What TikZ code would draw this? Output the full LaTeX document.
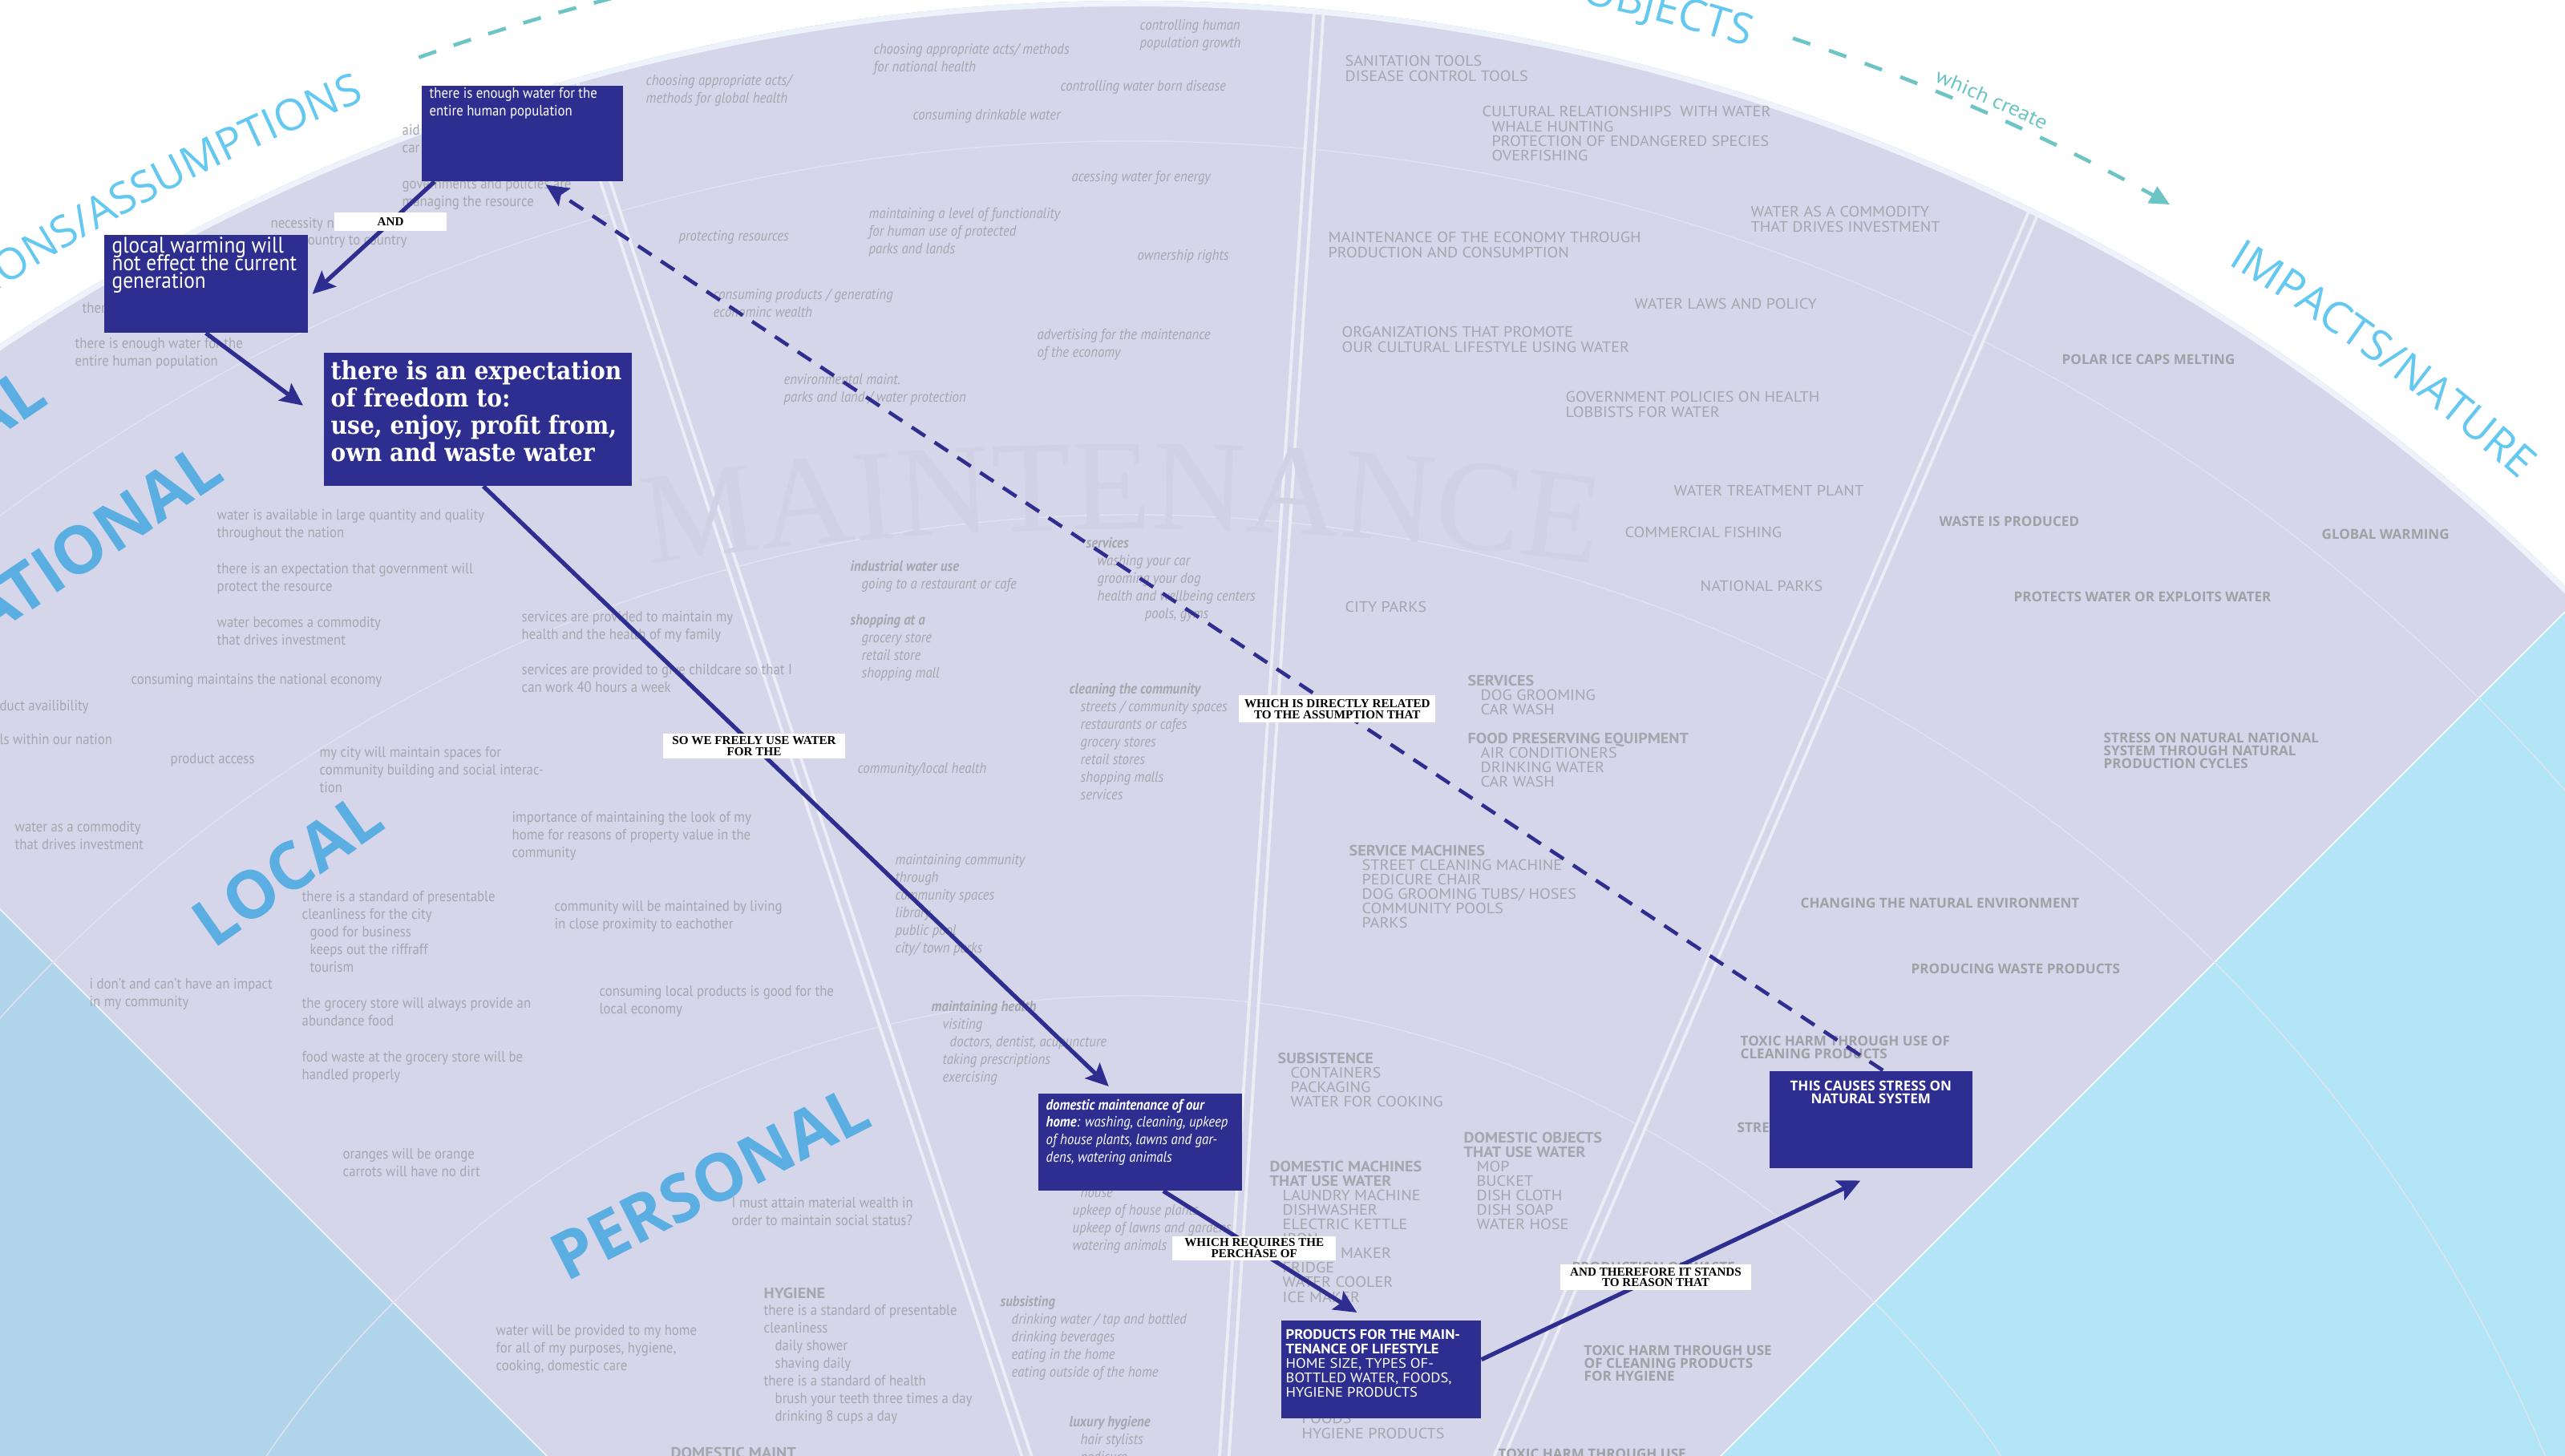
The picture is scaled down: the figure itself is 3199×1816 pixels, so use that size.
\documentclass[tikz,border=0pt]{standalone}
\usepackage{fontspec}
\usetikzlibrary{arrows.meta,calc,decorations.text}

\newfontfamily\condsans[FakeStretch=0.9]{PT Sans}
\newfontfamily\capsans[FakeStretch=1.08]{PT Sans}
\newfontfamily\labelsans{Open Sans}
\newfontfamily\boxserif[FakeStretch=0.9]{DejaVu Serif}
\newfontfamily\linkserif{Liberation Serif}

\definecolor{lav}{HTML}{D5D6E9}
\definecolor{seacyan}{HTML}{B2E6F7}
\definecolor{paleblue}{HTML}{B0D4E9}
\definecolor{rimwhite}{HTML}{EEF2FA}
\definecolor{boxblue}{HTML}{2E2E91}
\definecolor{greytxt}{HTML}{A6A6AE}
\definecolor{impgrey}{HTML}{A0A0A6}
\definecolor{bandblue}{HTML}{5AAEE1}
\definecolor{arcblue}{HTML}{64C8F0}
\definecolor{tealdash}{HTML}{6CC4C4}
\definecolor{ghost}{HTML}{D2D0E4}

\newcommand\asmfont{\condsans\fontsize{5.3}{6.25}\selectfont\lineskiplimit=-5pt\relax}
\newcommand\capfont{\capsans\fontsize{5.3}{5.15}\selectfont\lineskiplimit=-5pt\relax}
\newcommand\impfont{\labelsans\bfseries\fontsize{4.85}{4.55}\selectfont\lineskiplimit=-5pt\relax}
\newcommand\linkfont{\linkserif\bfseries\fontsize{4.3}{3.95}\selectfont\lineskiplimit=-5pt\relax}
\newcommand\listin{\hspace*{1.4mm}}
\newcommand\objin{\hspace*{1.6mm}}

\tikzset{
  asm/.style={anchor=north west, inner sep=0pt, align=left, text=greytxt, font=\asmfont},
  mnt/.style={asm, font=\asmfont\itshape},
  obj/.style={asm, font=\capfont},
  imp/.style={asm, text=impgrey, font=\impfont},
  keybox/.style={anchor=north west, fill=boxblue, text=white, inner xsep=1mm, inner ysep=.3mm},
  linkbox/.style={fill=white, text=black, inner sep=0pt, align=center, font=\linkfont},
  conn/.style={draw=boxblue, line width=1.5pt, -{Stealth[length=8pt,width=7.5pt,inset=1.5pt]}},
  dconn/.style={conn, line width=1.3pt, dash pattern=on 5.7pt off 4pt},
  band/.style={anchor=base east, inner sep=0pt, text=bandblue, font=\labelsans\bfseries\fontsize{23.3}{24}\selectfont},
  column/.style={draw=white!55!lav, line width=1.1pt, double=lav, double distance=2.2pt},
  ring/.style={draw=white!30!lav, line width=.4pt},
}

\begin{document}
\begin{tikzpicture}[x=0.01cm, y=-0.01cm]
\useasboundingbox (0,0) rectangle (3199,1816);
\clip (0,0) rectangle (3199,1816);
\fill[white] (0,0) rectangle (3199,1816);

% the fan
\begin{scope}
  \clip (1414,2548) circle[radius=2547];
  \fill[seacyan] (-100,-100) rectangle (3300,1900);
  \fill[paleblue] (1414,2548) -- (-1586,-452) -- (-1586,3000) -- cycle;
  \fill[lav] (1414,2548) -- (-1586,-452) -- (4414,-452) -- cycle;
  \draw[white, line width=.4pt] (-1586,-452) -- (1414,2548) -- (4414,-452);
  \foreach \rad in {2372,1906,1306}
    \draw[ring] (1414,2548) circle[radius=\rad];
  \draw[column] (700,60) -- (1295,1860);
  \draw[column] (1647,-20) -- (1524,1860);
  \draw[column] (2564,200) -- (1851,1860);
  \draw[rimwhite, line width=2.2pt] (1414,2548) circle[radius=2544];
\end{scope}

\path[decorate, decoration={text along path, text align=center, text color=ghost,
    text={|\linkserif\fontsize{46}{46}\selectfont|MAINTENANCE}}]
  plot[domain=-100:-80, samples=60] ({1400+4000*cos(\x)}, {4660+4000*sin(\x)});

% ring titles
\path[decorate, decoration={text along path, text align=right, text color=arcblue,
    text={|\labelsans\fontsize{15.4}{16}\selectfont|IONS/ASSUMPTIONS}}]
  plot[domain=-150:-111.6, samples=90] ({1414+2605*cos(\x)}, {2548+2605*sin(\x)});
\path[decorate, decoration={text along path, text align=right, text color=arcblue,
    text={|\labelsans\fontsize{15.4}{16}\selectfont|OBJECTS}}]
  plot[domain=-95:-72.9, samples=60] ({1414+2605*cos(\x)}, {2548+2605*sin(\x)});
\path[decorate, decoration={text along path, text color=arcblue,
    text={|\labelsans\fontsize{15.4}{16}\selectfont|IMPACTS/NATURE}}]
  plot[domain=-58.4:-25, samples=90] ({1414+2605*cos(\x)}, {2548+2605*sin(\x)});
\draw[tealdash, line width=1.3pt, dash pattern=on 6.5pt off 6.5pt]
  plot[domain=-109.8:-98, samples=40] ({1414+2632*cos(\x)}, {2548+2632*sin(\x)});
\draw[tealdash, line width=1.3pt, dash pattern=on 6.5pt off 7pt, -{Triangle[length=7pt,width=6.5pt]}]
  plot[domain=-71.8:-60.6, samples=40] ({1414+2632*cos(\x)}, {2548+2632*sin(\x)});
\path[decorate, decoration={text along path, text color=tealdash,
    text={|\capsans\fontsize{7.2}{7.2}\selectfont|which create}}]
  plot[domain=-67.8:-55, samples=40] ({1414+2642*cos(\x)}, {2548+2642*sin(\x)});

% scale bands
\node[band, rotate=34] (globalLbl) at (63,502) {GLOBAL};
\node[band, rotate=34] (nationalLbl) at (283,597) {NATIONAL};
\node[band, rotate=35] (localLbl) at (484,1032) {LOCAL};
\node[band, rotate=27] (personalLbl) at (1091,1403) {PERSONAL};

% assumptions
\node[asm] (a1) at (501,155) {aid\\car};
\node[asm] (a2) at (501,222) {governments and policies are\\managing the resource};
\node[asm] (a3) at (337,271) {necessity n};
\node[asm] (a4) at (376,293) {country to country};
\node[asm] (a5) at (102,377) {there};
\node[asm] (a6) at (93,421) {there is enough water for the\\entire human population};
\node[asm] (a7) at (270,635) {water is available in large quantity and quality\\throughout the nation};
\node[asm] (a8) at (270,702) {there is an expectation that government will\\protect the resource};
\node[asm] (a9) at (270,769) {water becomes a commodity\\that drives investment};
\node[asm] (a10) at (163,840) {consuming maintains the national economy};
\node[asm] (a11) at (-1,873) {duct availibility};
\node[asm] (a12) at (-1,915) {ls within our nation};
\node[asm] (a13) at (212,939) {product access};
\node[asm] (a14) at (398,931) {my city will maintain spaces for\\community building and social interac-\\tion};
\node[asm] (a15) at (18,1024) {water as a commodity\\that drives investment};
\node[asm] (a16) at (650,762) {services are provided to maintain my\\health and the health of my family};
\node[asm] (a17) at (650,828) {services are provided to give childcare so that I\\can work 40 hours a week};
\node[asm] (a18) at (638,1012) {importance of maintaining the look of my\\home for reasons of property value in the\\community};
\node[asm] (a19) at (376,1111) {there is a standard of presentable\\cleanliness for the city\\\hspace*{1mm}good for business\\\hspace*{1mm}keeps out the riffraff\\\hspace*{1mm}tourism};
\node[asm] (a20) at (691,1123) {community will be maintained by living\\in close proximity to eachother};
\node[asm] (a21) at (111,1220) {i don’t and can’t have an impact\\in my community};
\node[asm] (a22) at (376,1244) {the grocery store will always provide an\\abundance food};
\node[asm] (a23) at (747,1229) {consuming local products is good for the\\local economy};
\node[asm] (a24) at (376,1311) {food waste at the grocery store will be\\handled properly};
\node[asm] (a25) at (427,1432) {oranges will be orange\\carrots will have no dirt};
\node[asm] (a26) at (912,1493) {I must attain material wealth in\\order to maintain social status?};
\node[asm] (a27) at (618,1652) {water will be provided to my home\\for all of my purposes, hygiene,\\cooking, domestic care};
\node[asm] (a28) at (952,1605) {{\capsans\bfseries HYGIENE}\\there is a standard of presentable\\cleanliness\\\listin daily shower\\\listin shaving daily\\there is a standard of health\\\listin brush your teeth three times a day\\\listin drinking 8 cups a day};

% maintenance
\node[mnt] (m1) at (805,93) {choosing appropriate acts/\\methods for global health};
\node[mnt] (m2) at (1089,54) {choosing appropriate acts/ methods\\for national health};
\node[mnt] (m3) at (1421,24) {controlling human\\population growth};
\node[mnt] (m4) at (1322,100) {controlling water born disease};
\node[mnt] (m5) at (1138,136) {consuming drinkable water};
\node[mnt] (m6) at (1336,213) {acessing water for energy};
\node[mnt] (m7) at (1083,259) {maintaining a level of functionality\\for human use of protected\\parks and lands};
\node[mnt] (m8) at (846,287) {protecting resources};
\node[mnt] (m9) at (1418,311) {ownership rights};
\node[mnt] (m10) at (889,360) {consuming products / generating\\econominc wealth};
\node[mnt] (m11) at (1293,410) {advertising for the maintenance\\of the economy};
\node[mnt] (m12) at (977,466) {environmental maint.\\parks and land / water protection};
\node[mnt] (m13) at (1060,699) {\textbf{industrial water use}\\\listin going to a restaurant or cafe};
\node[mnt] (m14) at (1060,766) {\textbf{shopping at a}\\\listin grocery store\\\listin retail store\\\listin shopping mall};
\node[mnt] (m15) at (1069,951) {community/local health};
\node[mnt] (m16) at (1116,1065) {maintaining community\\through\\community spaces\\library\\public pool\\city/ town parks};
\node[mnt] (m17) at (1354,670) {\textbf{services}\\\listin washing your car\\\listin grooming your dog\\\listin health and wellbeing centers\\\hspace*{7.3mm}pools, gyms};
\node[mnt] (m18) at (1333,852) {\textbf{cleaning the community}\\\listin streets / community spaces\\\listin restaurants or cafes\\\listin grocery stores\\\listin retail stores\\\listin shopping malls\\\listin services};
\node[mnt] (m19) at (1161,1248) {\textbf{maintaining health}\\\listin visiting\\\hspace*{2.3mm}doctors, dentist, acupuncture\\\listin taking prescriptions\\\listin exercising};
\node[mnt] (m20) at (1337,1480) {\hspace*{1mm}house\\upkeep of house plants\\upkeep of lawns and gardens\\watering animals};
\node[mnt] (m21) at (1247,1616) {\textbf{subsisting}\\\listin drinking water / tap and bottled\\\listin drinking beverages\\\listin eating in the home\\\listin eating outside of the home};
\node[mnt] (m22) at (1333,1766) {\textbf{luxury hygiene}\\\listin hair stylists\\\listin pedicure};

% objects
\node[obj] (o1) at (1677,69) {SANITATION TOOLS\\DISEASE CONTROL TOOLS};
\node[obj] (o2) at (1848,132) {CULTURAL RELATIONSHIPS\ \ WITH WATER\\\hspace*{1.2mm}WHALE HUNTING\\\hspace*{1.2mm}PROTECTION OF ENDANGERED SPECIES\\\hspace*{1.2mm}OVERFISHING};
\node[obj] (o3) at (2183,257) {WATER AS A COMMODITY\\THAT DRIVES INVESTMENT};
\node[obj] (o4) at (1656,289) {MAINTENANCE OF THE ECONOMY THROUGH\\PRODUCTION AND CONSUMPTION};
\node[obj] (o5) at (2038,372) {WATER LAWS AND POLICY};
\node[obj] (o6) at (1673,407) {ORGANIZATIONS THAT PROMOTE\\OUR CULTURAL LIFESTYLE USING WATER};
\node[obj] (o7) at (1952,488) {GOVERNMENT POLICIES ON HEALTH\\LOBBISTS FOR WATER};
\node[obj] (o8) at (2087,605) {WATER TREATMENT PLANT};
\node[obj] (o9) at (2026,657) {COMMERCIAL FISHING};
\node[obj] (o10) at (2120,724) {NATIONAL PARKS};
\node[obj] (o11) at (1677,750) {CITY PARKS};
\node[obj] (o12) at (1830,841) {\textbf{SERVICES}\\\objin DOG GROOMING\\\objin CAR WASH};
\node[obj] (o13) at (1830,913) {\textbf{FOOD PRESERVING EQUIPMENT}\\\objin AIR CONDITIONERS\\\objin DRINKING WATER\\\objin CAR WASH};
\node[obj] (o14) at (1682,1053) {\textbf{SERVICE MACHINES}\\\objin STREET CLEANING MACHINE\\\objin PEDICURE CHAIR\\\objin DOG GROOMING TUBS/ HOSES\\\objin COMMUNITY POOLS\\\objin PARKS};
\node[obj] (o15) at (1593,1312) {\textbf{SUBSISTENCE}\\\objin CONTAINERS\\\objin PACKAGING\\\objin WATER FOR COOKING};
\node[obj] (o16) at (1825,1411) {\textbf{DOMESTIC OBJECTS}\\\textbf{THAT USE WATER}\\\objin MOP\\\objin BUCKET\\\objin DISH CLOTH\\\objin DISH SOAP\\\objin WATER HOSE};
\node[obj] (o17) at (1583,1447) {\textbf{DOMESTIC MACHINES}\\\textbf{THAT USE WATER}\\\objin LAUNDRY MACHINE\\\objin DISHWASHER\\\objin ELECTRIC KETTLE\\\objin IRON\\\objin COFFEE MAKER\\\objin FRIDGE\\\objin WATER COOLER\\\objin ICE MAKER};
\node[obj] (o18) at (1623,1762) {FOODS\\HYGIENE PRODUCTS};
\node[obj] (o19) at (836,1804) {\textbf{DOMESTIC MAINT}};

% impacts
\node[imp] (i1) at (2571,441) {POLAR ICE CAPS MELTING};
\node[imp] (i2) at (2418,643) {WASTE IS PRODUCED};
\node[imp] (i3) at (2895,659) {GLOBAL WARMING};
\node[imp] (i4) at (2511,737) {PROTECTS WATER OR EXPLOITS WATER};
\node[imp] (i5) at (2623,913) {STRESS ON NATURAL NATIONAL\\SYSTEM THROUGH NATURAL\\PRODUCTION CYCLES};
\node[imp] (i6) at (2245,1119) {CHANGING THE NATURAL ENVIRONMENT};
\node[imp] (i7) at (2383,1201) {PRODUCING WASTE PRODUCTS};
\node[imp] (i8) at (2170,1291) {TOXIC HARM THROUGH USE OF\\CLEANING PRODUCTS};
\node[imp] (i9) at (2166,1399) {STRESS ON NATURAL SYSTEM};
\node[imp] (i10) at (1975,1677) {TOXIC HARM THROUGH USE\\OF CLEANING PRODUCTS\\FOR HYGIENE};
\node[imp] (i11) at (1868,1806) {TOXIC HARM THROUGH USE};
\node[imp] (i12) at (1960,1573) {PRODUCTION OF WASTE};

% key statements
\node[keybox] (box1) at (525,106) {\parbox[t][11.3mm][t]{23.1mm}{\asmfont\raggedright there is enough water for the\\entire human population}};
\node[keybox] (box2) at (129,292) {\parbox[t][11.6mm][t]{23.4mm}{\condsans\fontsize{8}{6.3}\selectfont\lineskiplimit=-5pt\raggedright glocal warming will\\not effect the current\\generation}};
\node[keybox, inner xsep=.9mm, inner ysep=1mm] (box3) at (403,439) {\parbox[t][14.6mm][t]{36.6mm}{\boxserif\bfseries\fontsize{8.9}{9.7}\selectfont\raggedright there is an expectation\\of freedom to:\\use, enjoy, profit from,\\own and waste water}};
\node[keybox, inner ysep=.7mm] (dom) at (1294,1363) {\parbox[t][10.7mm][t]{23.4mm}{\asmfont\itshape\raggedright\textbf{domestic maintenance of our}\\\textbf{home}: washing, cleaning, upkeep\\of house plants, lawns and gar-\\dens, watering animals}};
\node[keybox, inner xsep=.6mm, inner ysep=1.1mm] (prod) at (1597,1646) {\parbox[t][10mm][t]{23.7mm}{\capsans\fontsize{4.9}{5.15}\selectfont\raggedright\textbf{PRODUCTS FOR THE MAIN-}\\\textbf{TENANCE OF LIFESTYLE}\\HOME SIZE, TYPES OF-\\BOTTLED WATER, FOODS,\\HYGIENE PRODUCTS}};
\node[keybox, inner ysep=1.2mm] (stress) at (2206,1335) {\parbox[t][9.7mm][t]{23.3mm}{\impfont\centering THIS CAUSES STRESS ON\\NATURAL SYSTEM}};

% links
\draw[conn] ($(box1.south west)+(17,0)$) -- node[linkbox, pos=.36, minimum width=14mm, minimum height=2.3mm] (andLbl) {AND} ($(box2.east)+(5,13)$);
\draw[conn] (box2.south) -- ($(box3.west)+(-25,-17)$);
\draw[conn] ($(box3.south)+(7,0)$) -- node[linkbox, pos=.433, minimum width=22.6mm, minimum height=3.1mm] (freeLbl) {SO WE FREELY USE WATER\\FOR THE} ($(dom.north)+(-39,-8)$);
\draw[conn] ($(dom.south)+(29,0)$) -- node[linkbox, pos=.47, minimum width=20.4mm, minimum height=3mm] (buyLbl) {WHICH REQUIRES THE\\PERCHASE OF} ($(prod.north)+(-30,-9)$);
\draw[conn] ($(prod.east)+(0,-12)$) -- node[linkbox, pos=.46, minimum width=23.7mm, minimum height=3.2mm] (reasonLbl) {AND THEREFORE IT STANDS\\TO REASON THAT} ($(stress.south)+(-13,15)$);
\draw[dconn] ($(stress.north)+(15,0)$) -- node[linkbox, pos=.408, minimum width=24.5mm, minimum height=3.4mm] (relLbl) {WHICH IS DIRECTLY RELATED\\TO THE ASSUMPTION THAT} ($(box1.south east)+(-97,4)$);
\end{tikzpicture}
\end{document}
